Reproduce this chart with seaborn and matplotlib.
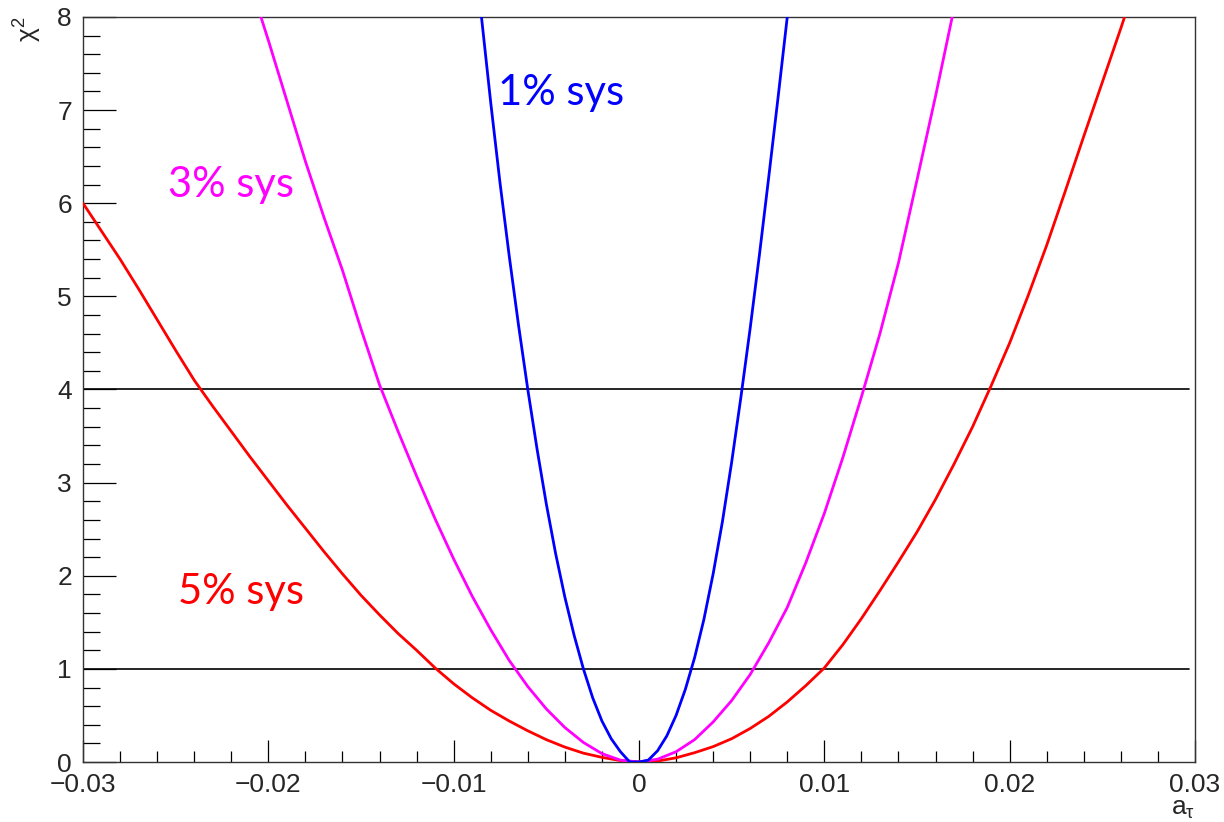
import matplotlib
matplotlib.use("Agg")
import matplotlib.pyplot as plt
import seaborn as sns
import pandas as pd
from matplotlib.ticker import MultipleLocator

# ---------------- data ----------------
x_red = [-0.030, -0.029, -0.028, -0.027, -0.026, -0.025, -0.024, -0.023, -0.022,
         -0.021, -0.020, -0.019, -0.018, -0.017, -0.016, -0.015, -0.014, -0.013,
         -0.012, -0.011, -0.010, -0.009, -0.008, -0.007, -0.006, -0.005, -0.004,
         -0.003, -0.002, -0.001, 0.000, 0.001, 0.002, 0.003, 0.004, 0.005,
         0.006, 0.007, 0.008, 0.009, 0.010, 0.011, 0.012, 0.013, 0.014,
         0.015, 0.016, 0.017, 0.018, 0.019, 0.020, 0.021, 0.022, 0.023,
         0.024, 0.025, 0.026, 0.0262]
chi2_red = [6.00, 5.70, 5.40, 5.08, 4.75, 4.42, 4.10, 3.82, 3.55,
            3.28, 3.02, 2.76, 2.51, 2.26, 2.02, 1.79, 1.58, 1.38,
            1.20, 1.01, 0.84, 0.69, 0.555, 0.44, 0.335, 0.24, 0.16,
            0.095, 0.05, 0.015, 0.0, 0.01, 0.045, 0.10, 0.165, 0.25,
            0.36, 0.49, 0.645, 0.82, 1.01, 1.26, 1.54, 1.84, 2.15,
            2.47, 2.82, 3.20, 3.60, 4.04, 4.50, 5.01, 5.55, 6.13,
            6.72, 7.30, 7.88, 8.0]

x_mag = [-0.0204, -0.020, -0.019, -0.018, -0.017, -0.016, -0.015, -0.014, -0.013,
         -0.012, -0.011, -0.010, -0.009, -0.008, -0.007, -0.006, -0.005, -0.004,
         -0.003, -0.002, -0.001, 0.000, 0.001, 0.002, 0.003, 0.004, 0.005,
         0.006, 0.007, 0.008, 0.009, 0.010, 0.011, 0.012, 0.013, 0.014,
         0.015, 0.016, 0.0169]
chi2_mag = [8.0, 7.75, 7.10, 6.45, 5.85, 5.28, 4.65, 4.05, 3.55,
            3.07, 2.61, 2.18, 1.78, 1.42, 1.09, 0.81, 0.57, 0.37,
            0.21, 0.09, 0.02, 0.0, 0.03, 0.11, 0.24, 0.43, 0.66,
            0.94, 1.28, 1.66, 2.14, 2.67, 3.27, 3.92, 4.60, 5.36,
            6.25, 7.15, 8.0]

x_blue = [-0.0085, -0.008, -0.0075, -0.007, -0.0065, -0.006, -0.0055, -0.005,
          -0.0045, -0.004, -0.0035, -0.003, -0.0025, -0.002, -0.0015, -0.001,
          -0.0005, 0.000, 0.0005, 0.001, 0.0015, 0.002, 0.0025, 0.003,
          0.0035, 0.004, 0.0045, 0.005, 0.0055, 0.006, 0.0065, 0.007,
          0.0075, 0.008]
chi2_blue = [8.0, 7.08, 6.22, 5.43, 4.69, 4.0, 3.36, 2.77,
             2.24, 1.77, 1.36, 1.0, 0.69, 0.44, 0.25, 0.11,
             0.0, 0.0, 0.02, 0.12, 0.28, 0.50, 0.78, 1.12,
             1.53, 2.02, 2.58, 3.22, 3.92, 4.66, 5.45, 6.28,
             7.13, 8.0]

ref_levels = [1, 4]

labels = ["1% sys", "3% sys", "5% sys"]
label_x = [-0.0076, -0.0254, -0.0249]
label_y = [7.18, 6.20, 1.83]
colors = ["#0000ff", "#ff00ff", "#ff0000"]

x_ticks = [-0.03, -0.02, -0.01, 0, 0.01, 0.02, 0.03]
x_tick_labels = ["\u22120.03", "\u22120.02", "\u22120.01", "0", "0.01", "0.02", "0.03"]
y_ticks = [0, 1, 2, 3, 4, 5, 6, 7, 8]

# ---------------- plotting ----------------
sns.set_theme(style="ticks")
plt.rcParams["font.family"] = ["Liberation Sans", "DejaVu Sans"]
plt.rcParams["mathtext.fontset"] = "custom"
plt.rcParams["mathtext.rm"] = "Liberation Sans"
plt.rcParams["mathtext.it"] = "Liberation Sans"

fig = plt.figure(figsize=(12.24, 8.22), dpi=100)
ax = fig.add_axes([83 / 1224, 60 / 822, 1112 / 1224, 745 / 822])

for lvl in ref_levels:
    ax.axhline(lvl, xmin=0, xmax=0.995, color="black", lw=1.2, zorder=1)

df_blue = pd.DataFrame({"x": x_blue, "y": chi2_blue})
df_mag = pd.DataFrame({"x": x_mag, "y": chi2_mag})
df_red = pd.DataFrame({"x": x_red, "y": chi2_red})
for df, c in [(df_red, colors[2]), (df_mag, colors[1]), (df_blue, colors[0])]:
    sns.lineplot(data=df, x="x", y="y", ax=ax, color=c, lw=2.0, sort=False,
                 estimator=None, zorder=3)

for t, xx, yy, c in zip(labels, label_x, label_y, colors):
    ax.text(xx, yy, t, color=c, fontsize=30, family=["Lato", "DejaVu Sans"],
            ha="left", va="center")

ax.set_xlim(-0.03, 0.03)
ax.set_ylim(0, 8)
ax.set_xticks(x_ticks)
ax.set_xticklabels(x_tick_labels)
ax.set_yticks(y_ticks)
ax.xaxis.set_minor_locator(MultipleLocator(0.002))
ax.yaxis.set_minor_locator(MultipleLocator(0.2))
ax.tick_params(axis="both", which="both", direction="in", width=0.9, color="black",
               labelsize=19, top=False, right=False)
ax.tick_params(axis="x", which="major", length=16, pad=8)
ax.tick_params(axis="x", which="minor", length=8)
ax.tick_params(axis="y", which="major", length=24, pad=8)
ax.tick_params(axis="y", which="minor", length=12)

for s in ax.spines.values():
    s.set_visible(True)
    s.set_color("#333333")
    s.set_linewidth(1.0)

ax.set_xlabel("")
ax.set_ylabel("")
ax.text(1.0, -0.047, r"$\mathregular{a_{\tau}}$", transform=ax.transAxes,
        ha="right", va="top", fontsize=19)
ax.text(-0.0495, 1.0, r"$\mathregular{\chi^{2}}$", transform=ax.transAxes,
        ha="center", va="top", rotation=90, fontsize=19)

fig.savefig("out.png", dpi=100)
